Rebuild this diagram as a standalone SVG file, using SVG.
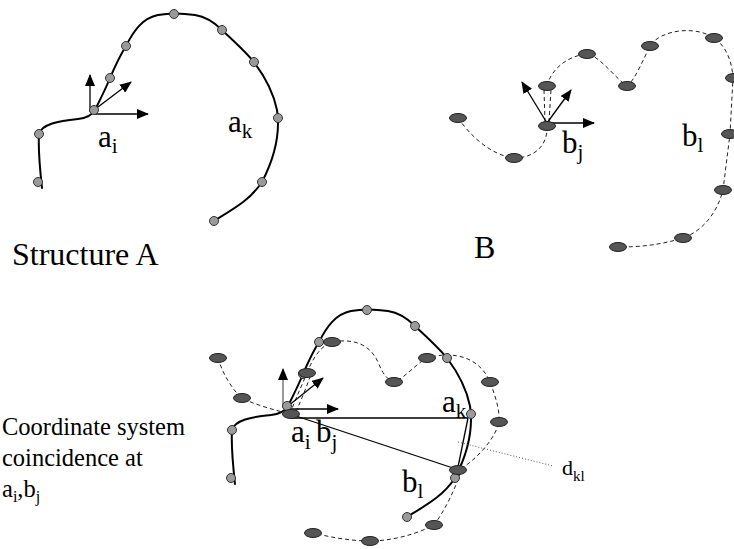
<svg xmlns="http://www.w3.org/2000/svg" width="734" height="549" viewBox="0 0 734 549">
<style>
.bg{fill:#fff}
.sa{fill:none;stroke:#000;stroke-width:2;stroke-linecap:round}
.sb{fill:none;stroke:#222;stroke-width:1;stroke-dasharray:4 3}
.ln{fill:none;stroke:#000;stroke-width:1.3}
.dot{fill:none;stroke:#555;stroke-width:1;stroke-dasharray:1 2}
.ax{fill:none;stroke:#000;stroke-width:1.3;marker-end:url(#ah)}
.axg{fill:none;stroke:#666;stroke-width:1.3;marker-end:url(#ah)}
.na{fill:#9a9a9a;stroke:#333;stroke-width:1}
.nb{fill:#555;stroke:#222;stroke-width:1}
text{font-family:"Liberation Serif","Times New Roman",serif;fill:#000}
.lb{font-size:31px}
.sub{font-size:21px}
.cap{font-size:32px}
.note{font-size:24.5px}
</style>
<defs>
<marker id="ah" markerUnits="userSpaceOnUse" markerWidth="12" markerHeight="10" refX="11" refY="5" orient="auto">
<path d="M0,0 L12,5 L0,10 z" fill="#000"/>
</marker>
</defs>
<rect class="bg" x="0" y="0" width="734" height="549"/>

<g id="connectors">
<!-- Structure A (top) -->
<path id="curveA" class="sa" d="M42,188 C40,170 38,150 39,134 C42,124 58,121 78,119 C88,118 92,115 95,110 C100,100 106,88 110,78 C116,64 121,54 126,46 C134,30 143,18 158,15 C168,13 182,13 195,15 C208,17 216,24 222,30 C235,42 246,52 254,62 C266,78 274,95 277,110 C280,130 276,155 262,182 C250,200 235,208 214,221"/>
<!-- Structure B (top) -->
<path class="sb" d="M458,118 C470,135 490,155 514,158 C535,158 548,145 547,126"/>
<path class="sb" d="M545,122 L544,90 M549,122 L551,90"/>
<path class="sb" d="M547,86 C550,72 565,56 587,54 C600,56 615,78 627,86 C635,80 643,60 650,46 C660,30 695,25 714,38 C725,45 732,60 733,78 L730,134 L723,190 C718,210 705,230 683,238 C660,245 640,247 618,247"/>
<!-- Combined: Structure A -->
<use href="#curveA" transform="translate(193,296)"/>
<!-- Combined: Structure B -->
<path class="sb" d="M218,358 C222,372 232,390 242,398 C255,405 275,410 290,414"/>
<path class="sb" d="M290,414 C295,400 302,385 307,373 M296,412 C302,398 306,388 310,377"/>
<path class="sb" d="M307,373 C312,360 320,346 332,342 C355,338 370,345 378,362 C383,375 388,380 394,382 C405,378 418,362 427,358 C455,350 480,358 490,382 C495,395 500,410 499,422 C495,440 475,460 462,468 C455,490 445,510 434,525 C415,535 390,541 370,541 C350,541 330,537 313,533"/>
<!-- distance lines -->
<path class="ln" d="M292,418 L468,418"/>
<path class="ln" d="M296,416 L456,469"/>
<path class="ln" d="M468,418 L458,467"/>
<path class="dot" d="M458,442 L553,466"/>
<!-- coordinate axes -->
<path class="ax" d="M90,112 L90,75"/>
<path class="ax" d="M94,114 L148,114"/>
<path class="ax" d="M94,110 L131,82"/>
<path class="ax" d="M547,123 L522,82"/>
<path class="ax" d="M547,123 L571,90"/>
<path class="ax" d="M547,123 L594,123"/>
<path class="axg" d="M283,408 L283,369"/>
<path class="ax" d="M290,409 L338,409"/>
<path class="ax" d="M288,406 L323,378"/>
</g>

<!-- Structure A (top) nodes -->
<g id="a-top-1"><circle class="na" cx="38" cy="182" r="4.5"/></g>
<g id="a-top-2"><circle class="na" cx="39" cy="134" r="4.5"/></g>
<g id="a-top-i"><circle class="na" cx="94" cy="110" r="4.5"/></g>
<g id="a-top-3"><circle class="na" cx="110" cy="78" r="4.5"/></g>
<g id="a-top-4"><circle class="na" cx="126" cy="46" r="4.5"/></g>
<g id="a-top-5"><circle class="na" cx="174" cy="14" r="4.5"/></g>
<g id="a-top-6"><circle class="na" cx="222" cy="30" r="4.5"/></g>
<g id="a-top-7"><circle class="na" cx="254" cy="62" r="4.5"/></g>
<g id="a-top-k"><circle class="na" cx="278" cy="118" r="4.5"/></g>
<g id="a-top-9"><circle class="na" cx="262" cy="182" r="4.5"/></g>
<g id="a-top-10"><circle class="na" cx="214" cy="221" r="4.5"/></g>

<!-- Structure B (top) nodes -->
<g id="b-top-0"><ellipse class="nb" cx="458" cy="118" rx="8.5" ry="4.5"/></g>
<g id="b-top-1"><ellipse class="nb" cx="514" cy="158" rx="8.5" ry="4.5"/></g>
<g id="b-top-j"><ellipse class="nb" cx="547" cy="126" rx="8.5" ry="4.5"/></g>
<g id="b-top-2"><ellipse class="nb" cx="547" cy="86" rx="8.5" ry="4.5"/></g>
<g id="b-top-3"><ellipse class="nb" cx="587" cy="54" rx="8.5" ry="4.5"/></g>
<g id="b-top-4"><ellipse class="nb" cx="627" cy="86" rx="8.5" ry="4.5"/></g>
<g id="b-top-5"><ellipse class="nb" cx="650" cy="46" rx="8.5" ry="4.5"/></g>
<g id="b-top-6"><ellipse class="nb" cx="714" cy="38" rx="8.5" ry="4.5"/></g>
<g id="b-top-7"><ellipse class="nb" cx="734" cy="78" rx="8.5" ry="4.5"/></g>
<g id="b-top-l"><ellipse class="nb" cx="730" cy="134" rx="8.5" ry="4.5"/></g>
<g id="b-top-9"><ellipse class="nb" cx="723" cy="190" rx="8.5" ry="4.5"/></g>
<g id="b-top-10"><ellipse class="nb" cx="683" cy="238" rx="8.5" ry="4.5"/></g>
<g id="b-top-11"><ellipse class="nb" cx="618" cy="247" rx="8.5" ry="4.5"/></g>

<!-- Combined: A nodes -->
<g id="a-bot-1"><circle class="na" cx="231" cy="478" r="4.5"/></g>
<g id="a-bot-2"><circle class="na" cx="232" cy="430" r="4.5"/></g>
<g id="a-bot-i"><circle class="na" cx="287" cy="406" r="4.5"/></g>
<g id="a-bot-3"><circle class="na" cx="303" cy="374" r="4.5"/></g>
<g id="a-bot-4"><circle class="na" cx="319" cy="342" r="4.5"/></g>
<g id="a-bot-5"><circle class="na" cx="367" cy="310" r="4.5"/></g>
<g id="a-bot-6"><circle class="na" cx="415" cy="326" r="4.5"/></g>
<g id="a-bot-7"><circle class="na" cx="447" cy="358" r="4.5"/></g>
<g id="a-bot-k"><circle class="na" cx="471" cy="414" r="4.5"/></g>
<g id="a-bot-9"><circle class="na" cx="455" cy="478" r="4.5"/></g>
<g id="a-bot-10"><circle class="na" cx="407" cy="517" r="4.5"/></g>

<!-- Combined: B nodes -->
<g id="b-bot-0"><ellipse class="nb" cx="218" cy="358" rx="8.5" ry="4.5"/></g>
<g id="b-bot-1"><ellipse class="nb" cx="242" cy="398" rx="8.5" ry="4.5"/></g>
<g id="b-bot-j"><ellipse class="nb" cx="291" cy="414" rx="8.5" ry="4.5"/></g>
<g id="b-bot-2"><ellipse class="nb" cx="307" cy="373" rx="8.5" ry="4.5"/></g>
<g id="b-bot-3"><ellipse class="nb" cx="332" cy="342" rx="8.5" ry="4.5"/></g>
<g id="b-bot-4"><ellipse class="nb" cx="394" cy="382" rx="8.5" ry="4.5"/></g>
<g id="b-bot-5"><ellipse class="nb" cx="427" cy="358" rx="8.5" ry="4.5"/></g>
<g id="b-bot-6"><ellipse class="nb" cx="490" cy="382" rx="8.5" ry="4.5"/></g>
<g id="b-bot-7"><ellipse class="nb" cx="499" cy="422" rx="8.5" ry="4.5"/></g>
<g id="b-bot-l"><ellipse class="nb" cx="458" cy="470" rx="8.5" ry="4.5"/></g>
<g id="b-bot-9"><ellipse class="nb" cx="434" cy="525" rx="8.5" ry="4.5"/></g>
<g id="b-bot-10"><ellipse class="nb" cx="370" cy="541" rx="8.5" ry="4.5"/></g>
<g id="b-bot-11"><ellipse class="nb" cx="313" cy="533" rx="8.5" ry="4.5"/></g>

<!-- Labels -->
<g id="labels">
<text class="lb" x="98" y="147">a<tspan class="sub" dy="6">i</tspan></text>
<text class="lb" x="228" y="132">a<tspan class="sub" dy="6">k</tspan></text>
<text class="lb" x="562" y="153">b<tspan class="sub" dy="6">j</tspan></text>
<text class="lb" x="682" y="146">b<tspan class="sub" dy="6">l</tspan></text>
<text class="cap" x="12" y="265">Structure A</text>
<text class="cap" x="474" y="258">B</text>
<text class="lb" x="291" y="442">a<tspan class="sub" dy="7">i</tspan></text>
<text class="lb" x="316" y="442">b<tspan class="sub" dy="7">j</tspan></text>
<text class="lb" x="442" y="412">a<tspan class="sub" dy="6">k</tspan></text>
<text class="lb" x="402" y="492">b<tspan class="sub" dy="6">l</tspan></text>
<text style="font-size:22px" x="562" y="475">d<tspan style="font-size:15px" dy="6">kl</tspan></text>
<text class="note" x="2" y="435">Coordinate system</text>
<text class="note" x="2" y="466">coincidence at</text>
<text class="note" x="2" y="497">a<tspan font-size="16" dy="5">i</tspan><tspan dy="-5">,b</tspan><tspan font-size="16" dy="5">j</tspan></text>
</g>
</svg>
